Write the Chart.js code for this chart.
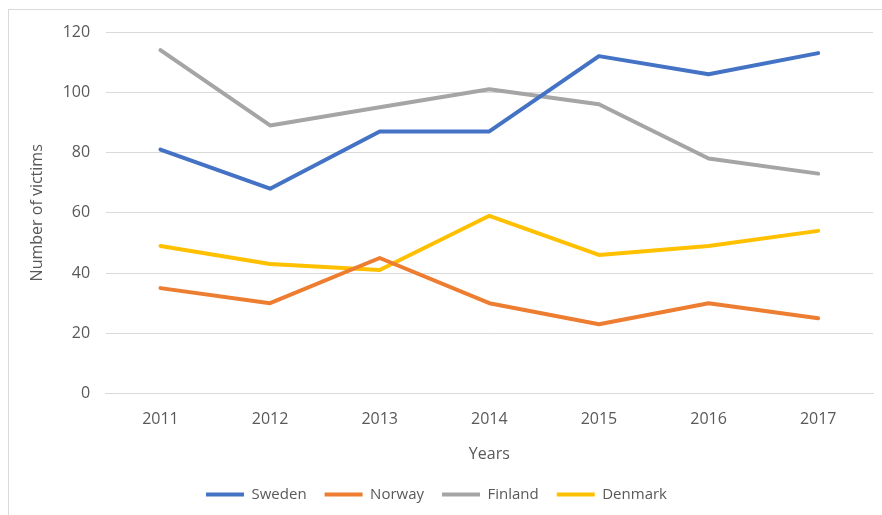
<!DOCTYPE html>
<html lang="en">
<head>
  <meta charset="UTF-8" />
  <title>Number of victims</title>
  <script src="https://cdn.jsdelivr.net/npm/chart.js"></script>
  <style>
    body { margin: 0; background: #fff; }
    #frame { position: absolute; left: 8px; top: 9px; width: 890px; height: 520px; border: 1px solid #d9d9d9; }
    #grafico { position: absolute; left: 0; top: 0; }
  </style>
</head>
<body>
  <div id="frame"></div>
  <canvas id="grafico" width="882" height="515"></canvas>

  <script>
    // dados
    const anos = ['2011', '2012', '2013', '2014', '2015', '2016', '2017'];
    const sweden  = [81, 68, 87, 87, 112, 106, 113];
    const norway  = [35, 30, 45, 30, 23, 30, 25];
    const finland = [114, 89, 95, 101, 96, 78, 73];
    const denmark = [49, 43, 41, 59, 46, 49, 54];

    const cinza = '#595959';
    Chart.defaults.font.family = '"Open Sans", sans-serif';
    Chart.defaults.font.size = 16;
    Chart.defaults.color = cinza;

    function serie(nome, dados, cor) {
      return {
        label: nome,
        data: dados,
        borderColor: cor,
        backgroundColor: cor,
        borderWidth: 4,
        pointRadius: 0,
        tension: 0,
        borderCapStyle: 'round',
        borderJoinStyle: 'round'
      };
    }

    const ctx = document.getElementById('grafico').getContext('2d');
    new Chart(ctx, {
      type: 'line',
      data: {
        labels: anos,
        datasets: [
          serie('Sweden', sweden, '#4472C4'),
          serie('Norway', norway, '#ED7D31'),
          serie('Finland', finland, '#A5A5A5'),
          serie('Denmark', denmark, '#FFC000')
        ]
      },
      options: {
        responsive: false,
        animation: false,
        layout: { padding: { top: 32, right: 9, left: 0, bottom: 3 } },
        plugins: {
          tooltip: { enabled: false },
          legend: {
            position: 'bottom',
            labels: {
              boxWidth: 38,
              boxHeight: 4,
              padding: 18,
              font: { size: 15 },
              generateLabels: chart => Chart.defaults.plugins.legend.labels.generateLabels(chart)
                .map(item => Object.assign(item, { lineWidth: 0, fillStyle: item.strokeStyle }))
            }
          }
        },
        scales: {
          x: {
            offset: true,
            grid: { display: false, drawTicks: false },
            border: { color: '#d9d9d9' },
            ticks: { padding: 16 },
            title: { display: true, text: 'Years', padding: { top: 0, bottom: 5 } }
          },
          y: {
            min: 0,
            max: 120,
            ticks: { stepSize: 20, padding: 15.5 },
            grid: { color: '#d9d9d9', drawTicks: false },
            border: { display: false },
            title: { display: true, text: 'Number of victims', padding: { top: 28, bottom: 0 } }
          }
        }
      }
    });
  </script>
</body>
</html>
